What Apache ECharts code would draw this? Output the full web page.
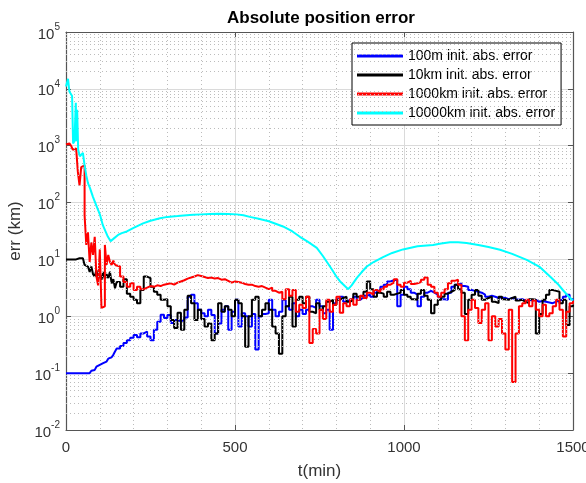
<!DOCTYPE html>
<html>
<head>
<meta charset="utf-8">
<script src="https://cdn.jsdelivr.net/npm/echarts@6/dist/echarts.min.js"></script>
<style>html,body{margin:0;padding:0;background:#fff;overflow:hidden}#c{width:586px;height:483px}</style>
</head>
<body>
<div id="c"></div>
<script>
// ---- data ----
const TIME = [0,5,10,15,20,25,30,35,40,45,50,55,60,65,70,75,80,85,90,95,100,105,110,115,120,125,130,135,140,145,150,
160,170,180,190,200,210,220,230,240,250,260,270,280,290,300,310,320,330,340,350,360,370,380,390,400,410,420,430,440,450,
460,470,480,490,500,510,520,530,540,550,560,570,580,590,600,610,620,630,640,650,660,670,680,690,700,710,720,730,740,750,
760,770,780,790,800,810,820,830,840,850,860,870,880,890,900,910,920,930,940,950,960,970,980,990,1000,1010,1020,1030,1040,1050,
1060,1070,1080,1090,1100,1110,1120,1130,1140,1150,1160,1170,1180,1190,1200,1210,1220,1230,1240,1250,1260,1270,1280,1290,1300,
1310,1320,1330,1340,1350,1360,1370,1380,1390,1400,1410,1420,1430,1440,1450,1460,1470,1480,1490,1500];

const ERR_100M = [0.1,0.1,0.1,0.1,0.1,0.1,0.1,0.1,0.1,0.1,0.1,0.1,0.1,0.1,0.105,0.11,0.114,0.12,0.13,0.14,0.14,0.15,0.155,0.16,0.17,0.18,0.19,0.2,0.21,0.24,0.27,
0.3,0.34,0.38,0.42,0.47,0.43,0.5,0.54,0.44,0.38,
0.58,0.8,1.06,0.93,1.05,0.76,0.86,0.82,0.86,0.95,
2.2,2.4,1.7,1.3,1.13,1.0,1.3,1.05,0.5,0.75,
1.3,1.5,0.58,1.2,1.95,0.66,1.13,1.0,0.66,1.1,
0.26,1.0,1.1,1.13,1.95,1.3,1.0,1.2,1.95,1.5,
1.3,1.7,1.0,1.3,1.1,1.3,1.5,1.4,1.95,1.5,
1.13,1.3,0.58,1.7,2.0,2.2,1.8,1.95,2.0,2.2,
1.95,2.1,2.3,2.4,2.2,2.6,2.9,3.3,3.6,4.1,
4.3,4.4,1.5,2.4,3.3,3.0,2.6,2.4,1.5,2.2,
2.6,2.8,2.6,2.4,2.2,2.0,1.95,2.6,3.3,3.6,
3.8,3.4,3.3,2.9,2.8,2.7,2.6,2.4,2.2,2.3,
2.2,2.1,2.15,2.1,2.0,2.1,2.0,1.95,2.0,1.9,
1.95,1.9,1.95,1.8,1.85,1.8,1.75,1.7,1.8,1.9,
1.95,2.2,2.4,2.0,1.9];

const ERR_10KM = [10,10,10,10,10,10,10,10.5,11,10.5,10.5,8,7.5,7,6,7.5,5.5,5,6.5,4.5,5.5,4.4,6,4.5,5.5,4.7,6.1,3.8,4.5,3.1,4.0,
3.3,4.5,2.5,2.2,1.95,1.7,2.9,5.0,4.7,3.3,
2.7,2.4,1.95,2.0,1.5,0.86,0.62,1.15,0.58,1.3,
2.3,1.7,0.86,1.3,0.9,0.66,0.75,0.38,0.5,1.7,
1.2,1.5,1.3,1.0,1.95,1.7,1.0,0.29,1.0,1.95,
2.2,1.0,1.3,1.7,1.3,0.66,0.5,0.22,1.0,1.5,
2.2,0.66,1.95,2.2,1.7,2.2,1.2,1.13,1.7,1.3,
1.5,1.8,1.95,1.6,1.95,2.1,2.2,1.8,1.95,2.5,
2.2,2.3,2.7,4.1,3.0,2.2,2.6,2.5,2.2,2.7,
2.4,2.5,2.6,2.9,2.4,2.2,2.0,1.95,2.5,2.9,
2.3,1.95,1.13,1.6,1.95,2.2,2.5,2.7,2.9,3.6,
3.0,2.6,1.1,1.95,2.4,2.9,2.3,1.95,2.1,2.2,
1.8,1.7,2.2,2.0,1.95,2.1,2.2,1.9,1.95,1.8,
1.7,2.0,1.95,0.5,1.1,1.95,2.4,2.9,2.8,2.7,
1.7,1.95,0.7,1.5,1.6];

const ERR_1000KM = [1050,1100,1050,1000,850,900,880,350,200,420,450,60,18,30,9,20,12,25,5,3.5,15,1.4,1.5,18,8,12,9,8,9.5,8,7.5,
5,4,3.3,3.8,2.9,3.3,3.0,3.2,3.4,3.3,
3.5,3.4,3.6,3.7,3.8,3.6,3.9,4.1,4.3,4.6,
4.8,5.0,5.3,5.1,4.9,4.7,4.8,4.6,4.7,4.4,
4.5,4.2,3.9,4.1,4.0,3.9,3.7,3.6,3.6,3.4,
3.3,3.4,3.2,3.0,3.2,2.8,2.6,2.7,2.0,3.0,
2.3,2.9,1.2,1.6,1.4,2.2,0.34,0.6,0.5,1.3,
0.9,1.95,1.2,1.6,2.2,1.15,1.7,1.5,2.0,1.6,
1.95,2.3,2.1,2.6,2.4,2.9,2.7,3.0,3.3,3.6,
3.9,4.5,3.6,3.3,3.9,4.2,3.7,3.8,4.0,4.4,
4.8,3.6,3.3,2.6,2.2,2.6,3.0,3.8,4.2,4.4,
3.6,1.0,0.38,1.3,1.95,1.4,0.76,1.3,1.7,0.38,
1.0,0.66,0.9,0.5,0.26,1.3,0.07,0.5,1.5,1.7,
1.95,1.5,1.9,1.3,1.0,1.6,1.0,1.13,1.5,1.95,
1.3,0.44,1.2,1.7,1.9];

const CYAN_TIME = [0,3,6,10,15,18,21,25,29,31,33,36,41,45,50,55,60,65,71,80,91,101,109,116,124,132,140,154,165,180,
200,228,250,278,300,330,357,376,400,426,450,480,505,525,544,570,600,642,670,692,715,742,760,781,800,811,825,835,845,860,
875,890,910,938,965,997,1040,1086,1110,1136,1160,1185,1220,1250,1284,1320,1363,1400,1432,1455,1470,1485,1500];
const ERR_10000KM = [11000,11000,15000,9000,8500,7500,1100,1200,5700,1200,4300,850,650,700,750,450,300,220,180,125,
85,60,40,32,25,21,23,27,29,31,36,43,48,53,56,58,60,61,62,63,63.5,63,62,60,56,52,47,38,31,25,
20.5,16,11.5,7.5,5,4.1,3.4,3.0,3.5,4.7,6,7.5,9,11,13,15,17,18,19,20,20,19.5,18,16.5,14.8,12.5,9.8,7.5,5,3.7,2.9,2.3,1.9];

const SERIES_NAMES = ['100m init. abs. error','10km init. abs. error','1000km init. abs. error','10000km init. abs. error'];
const X_TICKS = [0,500,1000,1500];
const Y_DECADES = [-2,-1,0,1,2,3,4,5];

// ---- chart ----
const FONT = "'Liberation Sans', Arial, Helvetica, sans-serif";
const pair = (ts, vs) => ts.map((t, i) => [t, vs[i]]);
const minorY = [];
for (let d = Y_DECADES[0]; d < Y_DECADES[Y_DECADES.length - 1]; d++) {
  for (let m = 2; m <= 9; m++) minorY.push({ yAxis: m * Math.pow(10, d) });
}
const chart = echarts.init(document.getElementById('c'), null, { renderer: 'canvas' });
const lineSeries = (name, data, color, step, z) => ({
  name, type: 'line', data, step, showSymbol: false, symbol: 'none',
  lineStyle: { color, width: 2 }, itemStyle: { color }, z, animation: false
});
chart.setOption({
  animation: false,
  backgroundColor: '#fff',
  title: {
    text: 'Absolute position error', left: 222, top: 5,
    textStyle: { fontFamily: FONT, fontSize: 17, fontWeight: 'bold', color: '#000' }
  },
  grid: { left: 66, right: 13, top: 32, bottom: 53, containLabel: false, outerBoundsMode: 'none' },
  legend: {
    orient: 'vertical', left: 352, top: 43, icon: 'rect', itemWidth: 46, itemHeight: 3, itemGap: 3,
    padding: [5, 6, 4, 5], borderColor: '#000', borderWidth: 1, backgroundColor: '#fff',
    textStyle: { fontFamily: FONT, fontSize: 14, color: '#000', lineHeight: 16 },
    data: SERIES_NAMES
  },
  xAxis: [{
    type: 'value', min: X_TICKS[0], max: X_TICKS[X_TICKS.length - 1], interval: 500,
    name: 't(min)', nameLocation: 'middle', nameGap: 33,
    nameTextStyle: { fontFamily: FONT, fontSize: 17, color: '#333' },
    axisLine: { show: true, onZero: false, lineStyle: { color: '#555', width: 1.2 } },
    axisTick: { show: true, inside: true, length: 5, lineStyle: { color: '#555' } },
    minorTick: { show: false, splitNumber: 5 },
    axisLabel: { margin: 10, fontFamily: FONT, fontSize: 15, color: '#333', formatter: v => String(v) },
    splitLine: { show: true, lineStyle: { color: '#dadada', width: 1 } },
    minorSplitLine: { show: true, lineStyle: { color: '#bcbcbc', width: 1, type: [1, 3] } }
  }, {
    type: 'value', position: 'top', min: X_TICKS[0], max: X_TICKS[X_TICKS.length - 1], interval: 500,
    axisLine: { show: true, onZero: false, lineStyle: { color: '#555', width: 1.2 } },
    axisTick: { show: true, inside: true, length: 5, lineStyle: { color: '#555' } },
    axisLabel: { show: false }, splitLine: { show: false }
  }],
  yAxis: [{
    type: 'log', logBase: 10, min: 0.01, max: 100000, splitNumber: 7,
    name: 'err (km)', nameLocation: 'middle', nameGap: 40, nameRotate: 90,
    nameTextStyle: { fontFamily: FONT, fontSize: 17, color: '#333' },
    axisLine: { show: true, onZero: false, lineStyle: { color: '#555', width: 1.2 } },
    axisTick: { show: true, inside: true, length: 5, lineStyle: { color: '#555' } },
    axisLabel: {
      margin: 6,
      formatter: v => '{b|10}{e|' + Math.round(Math.log10(v)) + '}',
      rich: {
        b: { fontFamily: FONT, fontSize: 15, color: '#333', lineHeight: 20, verticalAlign: 'bottom' },
        e: { fontFamily: FONT, fontSize: 10, color: '#333', verticalAlign: 'top', lineHeight: 12 }
      }
    },
    splitLine: { show: true, lineStyle: { color: '#dadada', width: 1 } }
  }, {
    type: 'log', logBase: 10, min: 0.01, max: 100000, splitNumber: 7, position: 'right',
    axisLine: { show: true, onZero: false, lineStyle: { color: '#555', width: 1.2 } },
    axisTick: { show: true, inside: true, length: 5, lineStyle: { color: '#555' } },
    axisLabel: { show: false }, splitLine: { show: false }
  }],
  series: [
    {
      name: 'minor-grid', type: 'line', data: [], z: 1, silent: true,
      markLine: {
        silent: true, symbol: ['none', 'none'], label: { show: false }, animation: false,
        lineStyle: { color: '#bcbcbc', width: 1, type: [1, 3] },
        data: minorY
      }
    },
    lineSeries(SERIES_NAMES[0], pair(TIME, ERR_100M), '#0000ff', 'end', 2),
    lineSeries(SERIES_NAMES[1], pair(TIME, ERR_10KM), '#000000', 'end', 3),
    lineSeries(SERIES_NAMES[2], pair(TIME, ERR_1000KM), '#ff0000', 'end', 4),
    lineSeries(SERIES_NAMES[3], pair(CYAN_TIME, ERR_10000KM), '#00ffff', false, 5)
  ]
});
</script>
</body>
</html>
